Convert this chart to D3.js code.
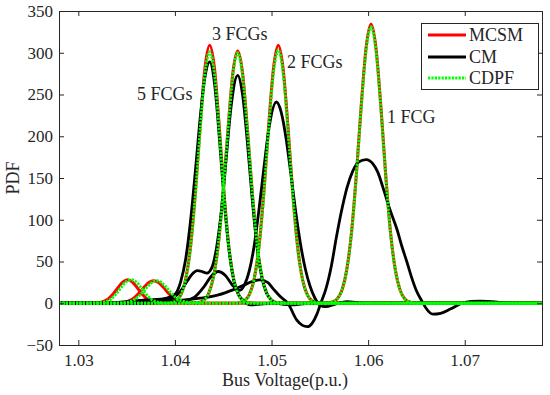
<!DOCTYPE html>
<html>
<head>
<meta charset="utf-8">
<script src="https://cdn.jsdelivr.net/npm/d3@7"></script>
<style>
  body { margin: 0; background: #fff; }
  text { font-family: "Liberation Serif", "Times New Roman", serif; fill: #262626; }
</style>
</head>
<body>
<svg id="chart" width="550" height="395"></svg>
<script>
// axis ticks
const xTicks = [1.03, 1.04, 1.05, 1.06, 1.07];
const yTicks = [-50, 0, 50, 100, 150, 200, 250, 300, 350];

// MCSM (Monte Carlo) pdf, one curve per number of FCGs, [voltage, pdf]
const mcsm5 = [[1.028,0],[1.031,0],[1.0321,0.7],[1.0326,2.1],[1.0331,5.3],[1.0336,11],[1.0341,18.5],[1.0346,25.3],[1.0351,28],[1.0356,25.3],[1.0361,18.5],[1.0366,11],[1.0371,5.3],[1.0376,2.1],[1.0381,0.7],[1.0388,0.2],[1.0396,0.6],[1.0401,2.8],[1.0406,9.6],[1.0411,28],[1.0416,66],[1.0421,130],[1.0426,210],[1.0431,281],[1.0436,309],[1.0441,281],[1.0446,210],[1.0451,130],[1.0456,66],[1.0461,28],[1.0466,9.6],[1.0471,2.8],[1.0476,0.6],[1.049,0],[1.078,0]];
const mcsm3 = [[1.028,0],[1.0333,0],[1.0343,0.4],[1.0348,1.2],[1.0353,3.1],[1.0358,6.7],[1.0363,12.4],[1.0368,19.1],[1.0373,24.8],[1.0378,27],[1.0383,24.8],[1.0388,19.1],[1.0393,12.4],[1.0398,6.7],[1.0403,3.3],[1.0408,1.6],[1.0414,0.8],[1.0425,1.0],[1.043,3.7],[1.0435,12],[1.044,32],[1.0445,71],[1.045,134],[1.0455,209],[1.046,276],[1.0465,302],[1.047,276],[1.0475,209],[1.048,134],[1.0485,71],[1.049,32],[1.0495,12],[1.05,3.7],[1.0505,1.0],[1.052,0],[1.078,0]];
const mcsm2 = [[1.028,0],[1.0462,0],[1.0467,0.7],[1.0472,3.0],[1.0477,10.2],[1.0482,29],[1.0487,68],[1.0492,132],[1.0497,212],[1.0502,281],[1.0507,309],[1.0512,281],[1.0517,212],[1.0522,132],[1.0527,68],[1.0532,29],[1.0537,10.2],[1.0542,3.0],[1.0547,0.7],[1.0555,0],[1.078,0]];
const mcsm1 = [[1.028,0],[1.0555,0],[1.0563,1.5],[1.0568,5.3],[1.0573,16],[1.0578,41],[1.0583,87],[1.0588,157],[1.0593,239],[1.0598,307],[1.0603,334],[1.0608,307],[1.0613,239],[1.0618,157],[1.0623,87],[1.0628,41],[1.0633,16],[1.0638,5.3],[1.0643,1.5],[1.065,0],[1.078,0]];

// CM (cumulant method) pdf
const cm5 = [[1.028,0],[1.033,0],[1.035,2],[1.037,4],[1.0386,5],[1.0396,8],[1.0401,12],[1.0406,26],[1.0411,52],[1.0416,97],[1.0421,156],[1.0426,220],[1.0431,270],[1.0436,289],[1.0441,263],[1.0446,198],[1.0451,123],[1.0456,64],[1.0461,27],[1.0466,10],[1.0471,3],[1.0478,-2],[1.0488,-1],[1.05,0],[1.078,0]];
const cm3 = [[1.028,0],[1.034,0],[1.036,1],[1.038,2],[1.0393,5],[1.0398,6],[1.0403,11],[1.0408,18],[1.0413,27],[1.0418,35],[1.0423,39],[1.0428,38],[1.0433,36],[1.0438,42],[1.0443,66],[1.0448,110],[1.0453,172],[1.0458,234],[1.0465,273],[1.047,250],[1.0475,193],[1.048,125],[1.0485,68],[1.049,31],[1.0495,12],[1.05,4],[1.0505,0],[1.052,-2],[1.054,0],[1.078,0]];
const cm2 = [[1.028,0],[1.036,0],[1.039,1],[1.041,3],[1.042,7],[1.043,19.6],[1.0438,33],[1.0445,38],[1.0452,33.5],[1.046,21],[1.0467,15.5],[1.0472,22],[1.0477,39],[1.0482,68.5],[1.0487,112],[1.0492,161],[1.0497,207],[1.0505,241],[1.051,229],[1.0515,198],[1.052,155],[1.0525,110],[1.053,71],[1.0535,41],[1.054,20],[1.0545,6],[1.055,-2],[1.0556,-4],[1.0566,-1],[1.0578,2],[1.0595,0],[1.078,0]];
const cm1 = [[1.028,0],[1.036,0],[1.039,2],[1.0426,6],[1.0445,10],[1.046,16],[1.0472,22],[1.048,26],[1.0488,28],[1.0496,25],[1.0502,17],[1.0509,8],[1.0517,0],[1.0526,-20],[1.0532,-26.5],[1.0537,-28],[1.0542,-24],[1.0547,-13],[1.0551,0],[1.0556,16],[1.0562,45],[1.0567,78],[1.0572,108],[1.0578,138],[1.0584,158],[1.059,169],[1.0598,172],[1.0605,167],[1.061,157],[1.0615,140],[1.0622,114],[1.063,88],[1.0635,68],[1.064,50],[1.0645,31],[1.065,15],[1.0656,2],[1.066,-6],[1.0667,-13],[1.0675,-12],[1.0685,-7],[1.0697,0],[1.0707,2.2],[1.0715,2.6],[1.0728,1.8],[1.0749,0],[1.078,0]];

// CDPF pdf
const cdpf5 = [[1.028,0],[1.031,0],[1.0324,0.7],[1.0329,2.1],[1.0334,5.3],[1.0339,11],[1.0344,18.5],[1.0349,25.3],[1.0355,28],[1.036,25.3],[1.0365,18.5],[1.037,11],[1.0375,5.3],[1.038,2.1],[1.0385,0.7],[1.039,0.2],[1.0396,0.6],[1.0401,2.8],[1.0406,9.6],[1.0411,28],[1.0416,65],[1.0421,127],[1.0426,205],[1.0431,274],[1.0436,301],[1.0441,274],[1.0446,205],[1.0451,127],[1.0456,65],[1.0461,28],[1.0466,9.6],[1.0471,2.8],[1.0476,0.6],[1.049,0],[1.078,0]];
const cdpf3 = [[1.028,0],[1.0336,0],[1.0346,0.4],[1.0351,1.2],[1.0356,3.1],[1.0361,6.7],[1.0366,12.4],[1.0371,19.1],[1.0376,24.8],[1.0381,27],[1.0386,24.8],[1.0391,19.1],[1.0396,12.4],[1.0401,6.7],[1.0406,3.3],[1.0411,1.6],[1.0416,0.8],[1.0425,1.0],[1.043,3.7],[1.0435,12],[1.044,32],[1.0445,71],[1.045,134],[1.0455,208],[1.046,273],[1.0465,300],[1.047,273],[1.0475,208],[1.048,134],[1.0485,71],[1.049,32],[1.0495,12],[1.05,3.7],[1.0505,1.0],[1.052,0],[1.078,0]];
const cdpf2 = [[1.028,0],[1.0462,0],[1.0467,0.7],[1.0472,3.0],[1.0477,10.2],[1.0482,29],[1.0487,67],[1.0492,130],[1.0497,208],[1.0502,276],[1.0507,303],[1.0512,276],[1.0517,208],[1.0522,130],[1.0527,67],[1.0532,29],[1.0537,10.2],[1.0542,3.0],[1.0547,0.7],[1.0555,0],[1.078,0]];
const cdpf1 = [[1.028,0],[1.0555,0],[1.0563,1.5],[1.0568,5.3],[1.0573,16],[1.0578,41],[1.0583,86],[1.0588,156],[1.0593,237],[1.0598,304],[1.0603,331],[1.0608,304],[1.0613,237],[1.0618,156],[1.0623,86],[1.0628,41],[1.0633,16],[1.0638,5.3],[1.0643,1.5],[1.065,0],[1.078,0]];

const fcgLabels = ['5 FCGs', '3 FCGs', '2 FCGs', '1 FCG'];
const legendNames = ['MCSM', 'CM', 'CDPF'];

const W = 550, H = 395;
const margin = {left: 59, right: 8, top: 11, bottom: 50};
const svg = d3.select('#chart');

const x = d3.scaleLinear().domain([1.028, 1.078]).range([margin.left, W - margin.right]);
const y = d3.scaleLinear().domain([-50, 350]).range([H - margin.bottom, margin.top]);

svg.append('rect').attr('width', W).attr('height', H).attr('fill', '#fff');

svg.append('clipPath').attr('id', 'clip')
  .append('rect')
  .attr('x', x.range()[0]).attr('y', margin.top)
  .attr('width', x.range()[1] - x.range()[0])
  .attr('height', y.range()[0] - margin.top);

const line = d3.line()
  .x(d => x(d[0]))
  .y(d => y(d[1]))
  .curve(d3.curveMonotoneX);

const plot = svg.append('g').attr('clip-path', 'url(#clip)');

// red first, black over it, green dotted on top
[mcsm5, mcsm3, mcsm2, mcsm1].forEach(s => {
  plot.append('path').datum(s)
    .attr('d', line).attr('fill', 'none')
    .attr('stroke', '#ff0000').attr('stroke-width', 3);
});
[cm5, cm3, cm2, cm1].forEach(s => {
  plot.append('path').datum(s)
    .attr('d', line).attr('fill', 'none')
    .attr('stroke', '#000').attr('stroke-width', 2.8);
});
[cdpf5, cdpf3, cdpf2, cdpf1].forEach(s => {
  plot.append('path').datum(s)
    .attr('d', line).attr('fill', 'none')
    .attr('stroke', '#00ff00').attr('stroke-width', 3)
    .attr('stroke-dasharray', '2.2,1.2');
});

// axes, matlab style inward ticks on all four sides
const gx = svg.append('g').attr('transform', `translate(0,${y.range()[0]})`)
  .call(d3.axisBottom(x).tickValues(xTicks).tickSize(-5).tickSizeOuter(0).tickPadding(9).tickFormat(d3.format('.2f')));
const gxTop = svg.append('g').attr('transform', `translate(0,${margin.top})`)
  .call(d3.axisTop(x).tickValues(xTicks).tickSize(-5).tickSizeOuter(0).tickFormat(''));
const gy = svg.append('g').attr('transform', `translate(${x.range()[0]},0)`)
  .call(d3.axisLeft(y).tickValues(yTicks).tickSize(-5).tickSizeOuter(0).tickPadding(6));
const gyRight = svg.append('g').attr('transform', `translate(${x.range()[1]},0)`)
  .call(d3.axisRight(y).tickValues(yTicks).tickSize(-5).tickSizeOuter(0).tickFormat(''));

[gx, gxTop, gy, gyRight].forEach(g => {
  g.select('.domain').remove();
  g.selectAll('line').attr('stroke', '#262626');
  g.selectAll('text').attr('font-size', 17).attr('font-family', '"Liberation Serif", serif').attr('fill', '#262626');
});

svg.append('rect')
  .attr('x', x.range()[0] + 0.5).attr('y', margin.top + 0.5)
  .attr('width', x.range()[1] - x.range()[0]).attr('height', y.range()[0] - margin.top)
  .attr('fill', 'none').attr('stroke', '#262626').attr('stroke-width', 1);

// axis titles
svg.append('text')
  .attr('x', 285).attr('y', 386)
  .attr('text-anchor', 'middle').attr('font-size', 18)
  .text('Bus Voltage(p.u.)');
svg.append('text')
  .attr('transform', `translate(19,${(margin.top + y.range()[0]) / 2}) rotate(-90)`)
  .attr('text-anchor', 'middle').attr('font-size', 18)
  .text('PDF');

// case labels, placed by hand next to their peaks
const labelSpots = [[137, 100], [212, 40], [287, 68], [387, 123]];
fcgLabels.forEach((t, i) => {
  svg.append('text')
    .attr('x', labelSpots[i][0]).attr('y', labelSpots[i][1])
    .attr('font-size', 18)
    .text(t);
});

// legend
const lg = svg.append('g');
lg.append('rect')
  .attr('x', 421.5).attr('y', 23.5).attr('width', 117).attr('height', 66)
  .attr('fill', '#fff').attr('stroke', '#262626').attr('stroke-width', 1);
const legendStyle = [
  {color: '#ff0000', dash: null},
  {color: '#000', dash: null},
  {color: '#00ff00', dash: '2.2,1.2'}
];
const legendY = [35, 57, 78];
legendNames.forEach((n, i) => {
  lg.append('line')
    .attr('x1', 428).attr('x2', 466)
    .attr('y1', legendY[i]).attr('y2', legendY[i])
    .attr('stroke', legendStyle[i].color).attr('stroke-width', 3)
    .attr('stroke-dasharray', legendStyle[i].dash);
  lg.append('text')
    .attr('x', 469).attr('y', legendY[i] + 6)
    .attr('font-size', 18)
    .text(n);
});
</script>
</body>
</html>
